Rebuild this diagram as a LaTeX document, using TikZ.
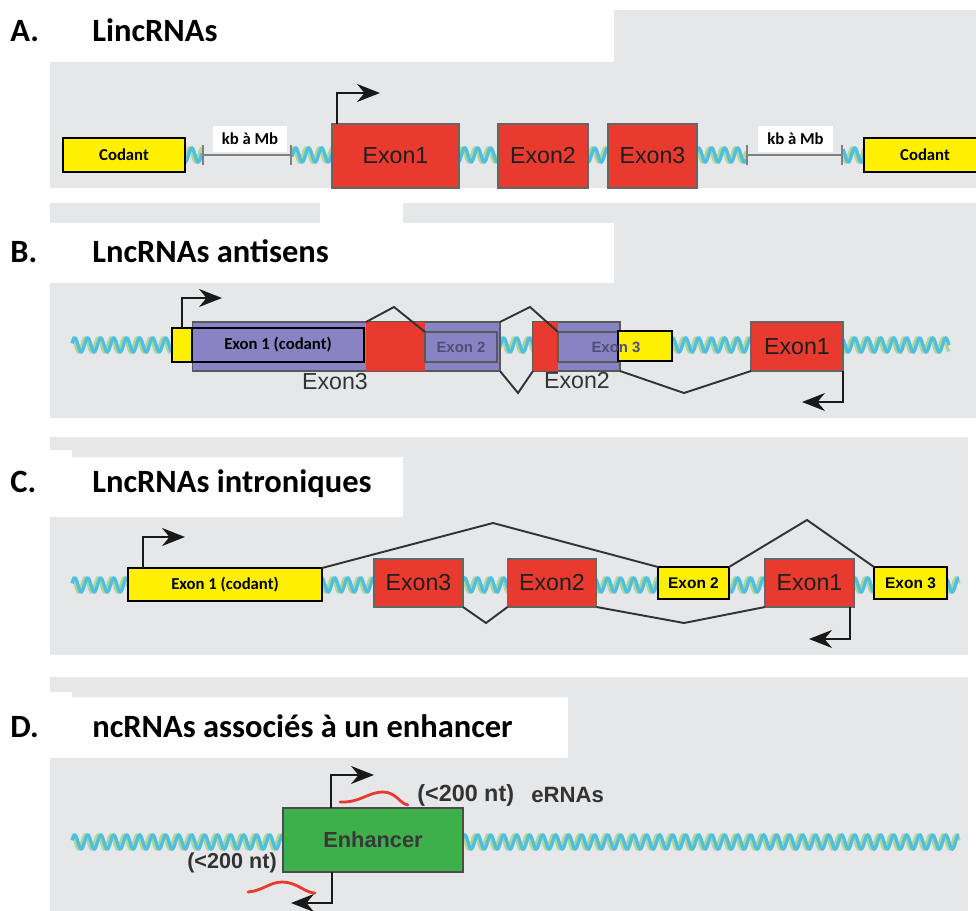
\documentclass[tikz,border=0pt]{standalone}
\usepackage{fontspec}
\setmainfont{Liberation Sans}
\newfontfamily\calfont{Carlito}
\usepackage{tikz}
\usetikzlibrary{arrows.meta,calc}
\definecolor{panelgray}{HTML}{E6E7E9}
\definecolor{exonred}{HTML}{E93A2F}
\definecolor{codyellow}{HTML}{FFF000}
\definecolor{antipurple}{HTML}{8884C4}
\definecolor{enhgreen}{HTML}{3DB04B}
\definecolor{helixblue}{HTML}{4FBFE0}
\definecolor{helixgreen}{HTML}{B3D596}
\definecolor{antitext}{HTML}{4E4E78}
\newcommand{\dnahelix}[3]{%
\pgfmathtruncatemacro{\nsamp}{(#2-#1)*1.2+3}
\draw[helixgreen, line width=1.9pt] plot[domain=#1:#2, samples=\nsamp, smooth] (\x, {#3+7*sin(mod(\x,13)*27.69+70)});
\draw[helixblue, line width=1.9pt] plot[domain=#1:#2, samples=\nsamp, smooth] (\x, {#3+7*sin(mod(\x,13)*27.69)});
}

\begin{document}
\begin{tikzpicture}[x=0.02cm, y=-0.02cm,
title/.style={anchor=base west, inner sep=0pt, font=\calfont\bfseries\fontsize{18.5}{20}\selectfont},
codbox/.style={draw=black, line width=1.2pt, fill=codyellow, inner sep=0pt, outer sep=0pt, font=\calfont\bfseries\fontsize{9.5}{11}\selectfont},
redexon/.style={draw=black!60, line width=0.6pt, fill=exonred, inner sep=0pt, outer sep=0pt, minimum height=0.96cm, text=black!88, font=\fontsize{13.2}{15}\selectfont},
purpbox/.style={draw=black!65, line width=0.6pt, fill=antipurple, inner sep=0pt, outer sep=0pt},
redblock/.style={fill=exonred, inner sep=0pt, outer sep=0pt, minimum height=0.98cm},
antilabel/.style={inner sep=0pt, text=antitext, font=\bfseries\fontsize{8.5}{10}\selectfont},
exlabel/.style={inner sep=0pt, text=black!80, font=\fontsize{13.2}{15}\selectfont},
kblabel/.style={fill=white, inner sep=0pt, minimum width=1.5cm, minimum height=0.52cm, font=\calfont\bfseries\fontsize{9.5}{11}\selectfont},
scalebar/.style={draw=black!50, line width=1.1pt, {Bar[width=4mm]}-{Bar[width=4mm]}},
tss/.style={draw=black!90, line width=1.1pt, -{Stealth[length=4.6mm,width=3.6mm,inset=1.5mm]}},
splice/.style={draw=black!80, line width=1.1pt},
erna/.style={draw=exonred, line width=1.6pt, line cap=round},
nt/.style={inner sep=0pt, text=black!80, font=\bfseries\fontsize{12.3}{14}\selectfont}]
\useasboundingbox (0,0) rectangle (976,911);
\fill[panelgray] (50,10) rectangle (976,188);
\fill[white] (0,0) rectangle (614,62);
\fill[panelgray] (50,203) rectangle (976,418);
\fill[white] (320,200) rectangle (403,223);
\fill[white] (50,223) rectangle (614,283);
\fill[panelgray] (50,437) rectangle (968,655);
\fill[white] (50,450) rectangle (72,457);
\fill[white] (50,457) rectangle (403,517);
\fill[panelgray] (50,677) rectangle (968,911);
\fill[white] (50,692) rectangle (72,697);
\fill[white] (50,697) rectangle (568,758);

\node[title] (ttlA) at (10,42) {A.};
\node[title] (nameA) at (92,42) {LincRNAs};
\dnahelix{185}{202}{155}
\dnahelix{292}{746}{155}
\dnahelix{843}{866}{155}
\coordinate (barA1l) at (202,155);
\coordinate (barA1r) at (292,155);
\coordinate (barA2l) at (746,155);
\coordinate (barA2r) at (843,155);
\draw[scalebar] (barA1l) -- (barA1r);
\draw[scalebar] (barA2l) -- (barA2r);
\node[kblabel] (kbA1) at (250,139) {kb à Mb};
\node[kblabel] (kbA2) at (795.5,139) {kb à Mb};
\node[codbox, minimum width=2.44cm, minimum height=0.68cm] (codA1) at (124,155) {Codant};
\node[codbox, minimum width=2.44cm, minimum height=0.68cm] (codA2) at (925,155) {Codant};
\node[redexon, minimum width=2.54cm, minimum height=1.28cm] (ex1A) at (395.5,156) {Exon1};
\node[redexon, minimum width=1.8cm, minimum height=1.28cm] (ex2A) at (543,156) {Exon2};
\node[redexon, minimum width=1.78cm, minimum height=1.28cm] (ex3A) at (652.5,156) {Exon3};
\coordinate (tssA) at (380,93);
\draw[tss] ([xshift=0.1cm]ex1A.north west) |- (tssA);

\node[title] (ttlB) at (10,263) {B.};
\node[title] (nameB) at (92,263) {LncRNAs antisens};
\dnahelix{72}{172}{345}
\dnahelix{497}{533}{345}
\dnahelix{671}{751}{345}
\dnahelix{843}{949}{345}
\node[purpbox, minimum width=6.16cm, minimum height=0.98cm] (bandB1) at (346,346.5) {};
\node[redblock, minimum width=1.18cm] (redB1) at (395.5,346.5) {};
\node[codbox, fill=antipurple, minimum width=3.44cm, minimum height=0.68cm] (ex1B) at (278,345) {Exon 1 (codant)};
\node[codbox, minimum width=0.4cm, minimum height=0.68cm] (startB) at (182,345) {};
\node[purpbox, antilabel, minimum width=1.44cm, minimum height=0.6cm] (ex2B) at (461,347) {Exon 2};
\node[purpbox, minimum width=1.74cm, minimum height=0.98cm] (bandB2) at (576.5,346.5) {};
\node[redblock, minimum width=0.5cm] (redB2) at (545.5,346.5) {};
\node[purpbox, minimum width=1.24cm, minimum height=0.6cm] (ex3B) at (589,347) {};
\node[codbox, minimum width=1.08cm, minimum height=0.6cm] (yelB) at (645,346) {};
\node[antilabel] (ex3Btxt) at (616,347) {Exon 3};
\node[redexon, minimum width=1.84cm, minimum height=0.98cm] (ex1Br) at (797,346.5) {Exon1};
\node[exlabel] (lblB3) at (335,382) {Exon3};
\node[exlabel] (lblB2) at (577,381) {Exon2};
\coordinate (pkB1) at (394,307);
\coordinate (pkB2) at (530,307);
\coordinate (vB1) at (518,393);
\coordinate (vB2) at (684,393);
\draw[splice] (redB1.north west) -- (pkB1) -- (ex2B.north west);
\draw[splice] (bandB1.north east) -- (pkB2) -- (ex3B.north west);
\draw[splice] (bandB1.south east) -- (vB1) -- (bandB2.south west);
\draw[splice] (bandB2.south east) -- (vB2) -- (ex1Br.south west);
\coordinate (tssB1) at (222,298);
\coordinate (tssB2) at (802,402);
\draw[tss] (startB.north) |- (tssB1);
\draw[tss] (ex1Br.south east) |- (tssB2);

\node[title] (ttlC) at (10,493) {C.};
\node[title] (nameC) at (92,493) {LncRNAs introniques};
\dnahelix{72}{128}{585}
\dnahelix{322}{374}{585}
\dnahelix{463}{508}{585}
\dnahelix{596}{658}{585}
\dnahelix{729}{765}{585}
\dnahelix{854}{874}{585}
\dnahelix{947}{959}{585}
\node[codbox, minimum width=3.88cm, minimum height=0.66cm] (ex1C) at (225,584.5) {Exon 1 (codant)};
\node[redexon, minimum width=1.78cm] (ex3C) at (418.5,583) {Exon3};
\node[redexon, minimum width=1.78cm] (ex2C) at (552,583) {Exon2};
\node[codbox, minimum width=1.42cm, minimum height=0.64cm, font=\bfseries\fontsize{8.8}{10}\selectfont] (ex2Cy) at (693.5,583) {Exon 2};
\node[redexon, minimum width=1.78cm] (ex1Cr) at (809.5,583) {Exon1};
\node[codbox, minimum width=1.46cm, minimum height=0.64cm, font=\bfseries\fontsize{8.8}{10}\selectfont] (ex3Cy) at (910.5,583) {Exon 3};
\coordinate (pkC1) at (493,523);
\coordinate (pkC2) at (807,520);
\coordinate (vC1) at (486,623);
\coordinate (vC2) at (684,623);
\draw[splice] (ex1C.north east) -- (pkC1) -- (ex2Cy.north west);
\draw[splice] (ex2Cy.north east) -- (pkC2) -- (ex3Cy.north west);
\draw[splice] (ex3C.south east) -- (vC1) -- (ex2C.south west);
\draw[splice] (ex2C.south east) -- (vC2) -- (ex1Cr.south west);
\coordinate (tssC1) at (185,537);
\coordinate (tssC2) at (809,639);
\draw[tss] ([xshift=0.3cm]ex1C.north west) |- (tssC1);
\draw[tss] ([xshift=-0.08cm]ex1Cr.south east) |- (tssC2);

\node[title] (ttlD) at (10,737) {D.};
\node[title] (nameD) at (92,737) {ncRNAs associés à un enhancer};
\dnahelix{72}{283}{842}
\dnahelix{463}{959}{842}
\node[draw=black!70, line width=0.8pt, fill=enhgreen, inner sep=0pt, outer sep=0pt, minimum width=3.6cm, minimum height=1.28cm, text=black!78, font=\bfseries\fontsize{12.4}{14}\selectfont] (enh) at (373,840) {Enhancer};
\coordinate (tssD1) at (374,775);
\coordinate (tssD2) at (291,903);
\draw[tss] ([xshift=0.96cm]enh.north west) |- (tssD1);
\draw[tss] ([xshift=0.98cm]enh.south west) |- (tssD2);
\draw[erna] (340,802) .. controls (360,803) and (368,792) .. (383,792) .. controls (396,792) and (400,804) .. (408,805);
\draw[erna] (248,892) .. controls (262,891) and (270,882) .. (282,882) .. controls (297,882) and (305,893) .. (315,893);
\node[nt, anchor=west, font=\bfseries\fontsize{13.3}{15}\selectfont] (ntD1) at (417,795) {(<200 nt)};
\node[nt, anchor=west, font=\bfseries\fontsize{12.6}{14}\selectfont] (ernaD) at (531,795) {eRNAs};
\node[nt] (ntD2) at (232,863) {(<200 nt)};
\end{tikzpicture}
\end{document}
